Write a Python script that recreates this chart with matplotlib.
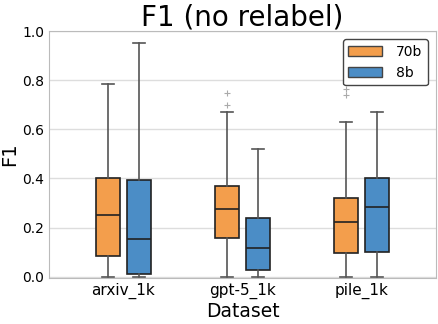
import numpy as np
import matplotlib
matplotlib.use("Agg")
from matplotlib import pyplot as plt
from matplotlib.patches import Patch

datasets = ['arxiv_1k', 'gpt-5_1k', 'pile_1k']
models = ['70b', '8b']
colors = ['#F39E4C', '#4B8DC6']

# box stats: (whislo, q1, med, q3, whishi, fliers)
stats_70b = [
    (0.0, 0.085, 0.25, 0.40, 0.785, []),
    (0.0, 0.157, 0.275, 0.37, 0.672, [0.70, 0.75]),
    (0.0, 0.097, 0.223, 0.32, 0.63, [0.738, 0.766]),
]
stats_8b = [
    (0.0, 0.01, 0.155, 0.392, 0.95, []),
    (0.0, 0.027, 0.119, 0.238, 0.52, []),
    (0.0, 0.10, 0.283, 0.40, 0.67, []),
]

fig, ax = plt.subplots(figsize=(4.39, 3.24), dpi=100)
ax.set_axisbelow(True)
ax.yaxis.grid(True, color='#dddddd', linewidth=1)

x = np.arange(len(datasets))
for j, (st, col) in enumerate(zip([stats_70b, stats_8b], colors)):
    bxp_stats = []
    for name, (lo, q1, med, q3, hi, fl) in zip(datasets, st):
        bxp_stats.append(dict(whislo=lo, q1=q1, med=med, q3=q3, whishi=hi,
                              fliers=fl, label=name))
    pos = x + (j - 0.5) * 0.26
    ax.bxp(bxp_stats, positions=pos, widths=0.2, patch_artist=True,
           boxprops=dict(facecolor=col, edgecolor='#222222', linewidth=1.2),
           medianprops=dict(color='#222222', linewidth=1.2),
           whiskerprops=dict(color='#555555', linewidth=1.2),
           capprops=dict(color='#555555', linewidth=1.2),
           flierprops=dict(marker='+', markeredgecolor='#aaaaaa', markersize=4,
                           markeredgewidth=0.8),
           capwidths=0.1, manage_ticks=False)

ax.set_xticks(x)
ax.set_xticklabels(datasets, fontsize=11)
ax.set_xlim(-0.62, 2.62)
ax.set_ylim(-0.005, 1.0)
ax.set_yticks([0.0, 0.2, 0.4, 0.6, 0.8, 1.0])
ax.set_yticklabels(['0.0', '0.2', '0.4', '0.6', '0.8', '1.0'], fontsize=10)
ax.tick_params(length=0)
for s in ax.spines.values():
    s.set_color('#bbbbbb')

ax.set_xlabel('Dataset', fontsize=13.5, labelpad=2)
ax.set_ylabel('F1', fontsize=14, labelpad=2)
ax.set_title('F1 (no relabel)', fontsize=20, pad=3)

handles = [Patch(facecolor=c, edgecolor='#444444', label=m) for c, m in zip(colors, models)]
ax.legend(handles=handles, loc='upper right', fontsize=10, edgecolor='#444444',
          fancybox=True, framealpha=1, handlelength=2.4, handletextpad=1.0,
          labelspacing=0.5, borderpad=0.4, borderaxespad=0.6)

plt.subplots_adjust(left=0.112, right=0.993, top=0.904, bottom=0.142)
plt.savefig('out.png')
